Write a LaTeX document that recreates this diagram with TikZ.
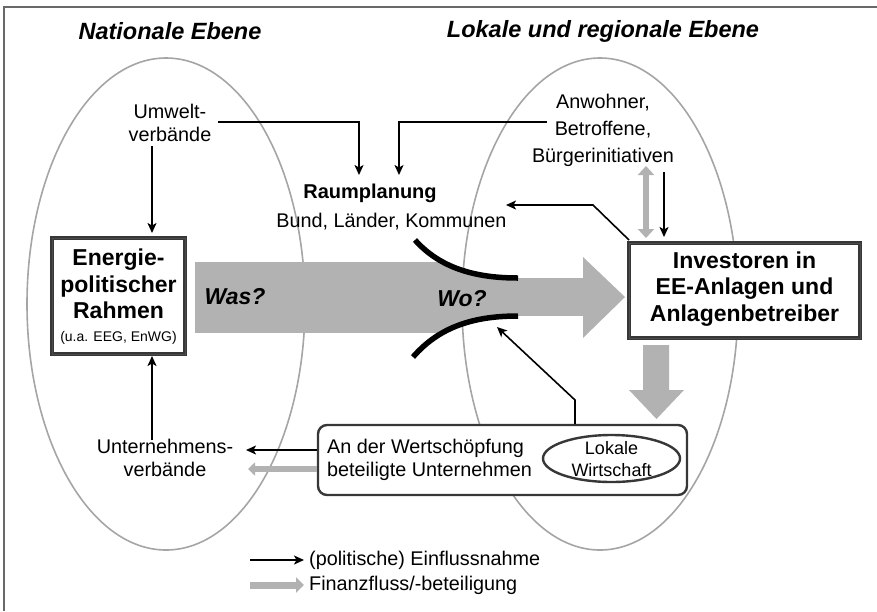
\documentclass[tikz,border=0pt]{standalone}
\usepackage{fontspec}
\setmainfont{Liberation Sans}
\usetikzlibrary{arrows.meta,shapes.geometric}
\definecolor{flowgray}{RGB}{178,178,178}
\definecolor{ringgray}{RGB}{165,165,165}
\definecolor{framegray}{RGB}{105,105,105}
\definecolor{boxdark}{RGB}{55,55,55}
\tikzset{
  txt/.style={inner sep=0pt, align=center, font=\fontsize{19.8}{23}\selectfont},
  boldtxt/.style={inner sep=0pt, align=center, font=\bfseries\fontsize{23}{26.5}\selectfont},
  titletxt/.style={inner sep=0pt, font=\bfseries\itshape\fontsize{23.5}{27}\selectfont},
  qtxt/.style={inner sep=0pt, font=\bfseries\itshape\fontsize{23}{27}\selectfont},
  infl/.style={draw=black, line width=1.6pt, -{Stealth[length=10pt,width=9pt,inset=2.5pt]}},
  flow/.style={draw=flowgray, line width=5.5pt, -{Triangle[length=7pt,width=13pt]}},
  frame box/.style={draw=boxdark, line width=1.3pt, double=gray!60!black, double distance=0.8pt, fill=white},
  ring/.style={draw=ringgray, line width=1.6pt},
  gate/.style={draw=black, line width=5.5pt, line cap=butt}
}
\begin{document}
\begin{tikzpicture}[x=1pt, y=-1pt]
\useasboundingbox (0,0) rectangle (877,611);
% frame
\draw[framegray, line width=2pt] (4,611) -- (4,7) -- (877,7);

% titles
\node[titletxt] (natl) at (170,31) {Nationale Ebene};
\node[titletxt] (lokal) at (603,31) {Lokale und regionale Ebene};

% level ellipses
\draw[ring] (166,304) ellipse [x radius=139pt, y radius=246pt];
\draw[ring] (600,304) ellipse [x radius=138pt, y radius=246pt];

% big grey arrow (Was? / Wo?)
\begin{scope}
  \clip (190,200) -- (415,200) -- (415,240) .. controls (440,268) and (475,278) .. (518,278)
        -- (518,316) .. controls (475,316) and (440,326) .. (413,357) -- (413,380) -- (190,380) -- cycle;
  \fill[flowgray] (195,262) rectangle (519,333);
\end{scope}
\fill[flowgray] (517,278) rectangle (584,316);
\fill[flowgray] (583,257) -- (625,297) -- (583,338) -- cycle;
\draw[gate] (415,240) .. controls (440,268) and (475,278) .. (518,278);
\draw[gate] (413,357) .. controls (440,326) and (475,316) .. (518,316);
\node[qtxt] (was) at (235,297) {Was?};
\node[qtxt] (wo) at (462,299) {Wo?};

% boxes
\node[frame box, minimum width=133pt, minimum height=116pt, inner sep=0pt] (epr) at (118.5,296) {};
\node[boldtxt] (eprtext) at (118.5,284) {Energie-\\politischer\\Rahmen};
\node[inner sep=0pt, font=\fontsize{14}{16}\selectfont] (eprsub) at (118.5,338) {(u.a. EEG, EnWG)};

\node[frame box, minimum width=231pt, minimum height=95pt, inner sep=0pt] (inv) at (744.5,290.5) {};
\node[boldtxt] (invtext) at (744.5,289) {Investoren in\\EE-Anlagen und\\Anlagenbetreiber};

\node[draw=boxdark, line width=2.4pt, rounded corners=9pt, fill=white,
      minimum width=369pt, minimum height=70pt, inner sep=0pt] (wert) at (502.5,460) {};
\node[txt, align=left, anchor=west] (werttext) at (327,460) {An der Wertschöpfung\\beteiligte Unternehmen};
\node[draw=boxdark, line width=2.4pt, ellipse, minimum width=137pt, minimum height=47pt, inner sep=0pt] (lokw) at (611.5,458.5) {};
\node[inner sep=0pt, align=center, font=\fontsize{18}{21.5}\selectfont] (lokwtext) at (611.5,459) {Lokale\\Wirtschaft};

% text actors
\node[txt] (umwelt) at (170,123) {Umwelt-\\verbände};
\node[inner sep=0pt, font=\bfseries\fontsize{20}{24}\selectfont] (raum) at (370,193) {Raumplanung};
\node[txt] (raumsub) at (391.5,222) {Bund, Länder, Kommunen};
\node[inner sep=0pt, align=center, font=\fontsize{19.8}{27}\selectfont] (anw) at (603,130) {Anwohner,\\Betroffene,\\Bürgerinitiativen};
\node[txt] (unv) at (165,458) {Unternehmens-\\verbände};

% connector points
\coordinate (u1) at (218,122);
\coordinate (u2) at (359,122);
\coordinate (r1) at (359,175);
\coordinate (a1) at (547,122);
\coordinate (a2) at (399,122);
\coordinate (r2) at (399,175);
\coordinate (b1) at (664,172);
\coordinate (i1) at (664,237);
\coordinate (b2) at (646,166);
\coordinate (i2) at (646,238);
\coordinate (i3) at (629,240);
\coordinate (i4) at (593,205);
\coordinate (r3) at (506,205);
\coordinate (w1) at (575,424);
\coordinate (w2) at (575,400);
\coordinate (g1) at (497,327);
\coordinate (u3) at (152,146);
\coordinate (e1) at (152,233);
\coordinate (v1) at (152,440);
\coordinate (e2) at (152,356);
\coordinate (w3) at (317,450);
\coordinate (v2) at (246,450);
\coordinate (w4) at (317,469);
\coordinate (v3) at (248,469);

% influence arrows
\draw[infl] (u1) -- (u2) -- (r1);
\draw[infl] (a1) -- (a2) -- (r2);
\draw[infl] (b1) -- (i1);
\draw[infl] (i3) -- (i4) -- (r3);
\draw[infl] (w1) -- (w2) -- (g1);
\draw[infl] (u3) -- (e1);
\draw[infl] (v1) -- (e2);
\draw[infl] (w3) -- (v2);

% financial flows
\draw[draw=flowgray, line width=6.5pt, {Triangle[length=9pt,width=16pt]}-{Triangle[length=9pt,width=16pt]}] (b2) -- (i2);
\draw[flow] (w4) -- (v3);
\fill[flowgray] (643,345) -- (669,345) -- (669,390) -- (684,390) -- (656.5,419) -- (629,390) -- (643,390) -- cycle;

% legend
\coordinate (l1) at (250,560);
\coordinate (l2) at (304,560);
\coordinate (l3) at (250,585);
\coordinate (l4) at (304,585);
\draw[infl] (l1) -- (l2);
\draw[draw=flowgray, line width=7pt, -{Triangle[length=8pt,width=15pt]}] (l3) -- (l4);
\node[txt, anchor=west] (leg1) at (309,560) {(politische) Einflussnahme};
\node[txt, anchor=west] (leg2) at (309,585) {Finanzfluss/-beteiligung};
\end{tikzpicture}
\end{document}
